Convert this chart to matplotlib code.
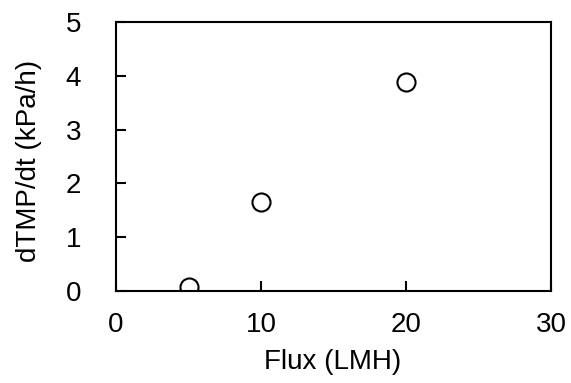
import matplotlib
matplotlib.use("Agg")
import matplotlib.pyplot as plt

plt.rcParams['font.family'] = ['Liberation Sans', 'DejaVu Sans']

flux = [5, 10, 20]
dtmp_rate = [0.08, 1.65, 3.89]

fig = plt.figure(figsize=(5.71, 3.83), dpi=100)
ax = fig.add_axes([116 / 571, 92 / 383, 435 / 571, 269 / 383])

ax.plot(flux, dtmp_rate, 'o', markersize=13, markerfacecolor='white',
        markeredgecolor='black', markeredgewidth=1.5)

ax.set_xlim(0, 30)
ax.set_ylim(0, 5)
ax.set_xticks([0, 10, 20, 30])
ax.set_yticks([0, 1, 2, 3, 4, 5])
ax.tick_params(direction='in', length=7, width=1.5, labelsize=20)
ax.tick_params(axis='x', pad=15)
ax.tick_params(axis='y', pad=25)
for s in ax.spines.values():
    s.set_linewidth(1.5)

ax.set_xlabel("Flux (LMH)", fontsize=20)
ax.set_ylabel("dTMP/dt (kPa/h)", fontsize=20)
ax.xaxis.label.set_va('center')
ax.yaxis.label.set_va('center')
ax.xaxis.set_label_coords(333 / 571, 1 - 362 / 383, transform=fig.transFigure)
ax.yaxis.set_label_coords(29 / 571, 1 - 161 / 383, transform=fig.transFigure)

fig.savefig("out.png", dpi=100)
